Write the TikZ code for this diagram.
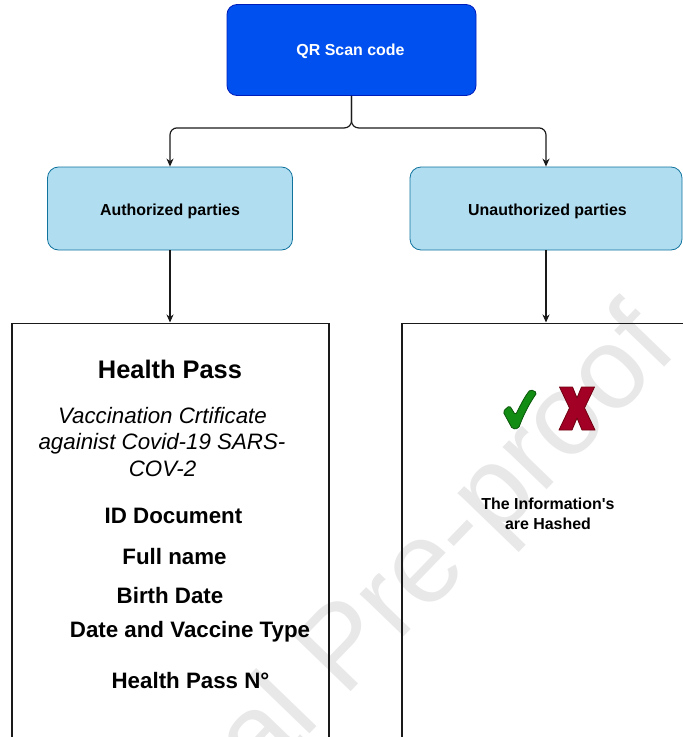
\documentclass[tikz,border=0pt]{standalone}
\usepackage{fontspec}
\setmainfont{Liberation Sans}[Ligatures=TeXOff]
\usetikzlibrary{arrows.meta}

\definecolor{qrfill}{HTML}{0050EF}
\definecolor{qrdraw}{HTML}{001DBC}
\definecolor{partyfill}{HTML}{B1DDF0}
\definecolor{partydraw}{HTML}{10739E}
\definecolor{okfill}{HTML}{128C12}
\definecolor{okdraw}{HTML}{0A560A}
\definecolor{nofill}{HTML}{A20025}
\definecolor{nodraw}{HTML}{6F0010}
\definecolor{wmark}{HTML}{E8E8E8}
\definecolor{edge}{HTML}{1A1A1A}

\begin{document}
\begin{tikzpicture}[x=1bp,y=-1bp,
  qrbox/.style={draw=qrdraw, fill=qrfill, line width=0.8bp, rounded corners=10bp,
    minimum width=249bp, minimum height=91bp, inner sep=0pt},
  partybox/.style={draw=partydraw, fill=partyfill, line width=0.8bp, rounded corners=11bp,
    minimum height=83bp, inner sep=0pt},
  cardbox/.style={draw=edge, line width=1.1bp, inner sep=0pt, anchor=north},
  lbl/.style={anchor=base, inner sep=0pt, font=\bfseries\fontsize{16}{19}\selectfont},
  title/.style={anchor=base, inner sep=0pt, font=\bfseries\fontsize{25.5}{30}\selectfont},
  field/.style={anchor=base, inner sep=0pt, font=\bfseries\fontsize{22.4}{26}\selectfont},
  cert/.style={anchor=base, inner sep=0pt, font=\itshape\fontsize{22.4}{26}\selectfont},
  watermark/.style={text=wmark, rotate=46, inner sep=0pt, font=\fontsize{116}{116}\selectfont},
  link/.style={draw=edge, line width=1.2bp, rounded corners=7bp,
    -{Stealth[length=8bp, width=7bp, inset=2.5bp]}}]
\useasboundingbox (0,0) rectangle (683,737);
\begin{scope}
\clip (0,0) rectangle (683,737);

% faint diagonal watermark behind everything
\node[watermark] (wm) at (348,652) {Journal Pre-proof};

% top level and the two audiences
\node[qrbox] (qr) at (351.5,50) {};
\node[lbl, text=white] (qrtxt) at (350.5,56) {QR Scan code};

\node[partybox, minimum width=245bp] (auth) at (170,208.5) {};
\node[lbl] (authtxt) at (170,215) {Authorized parties};

\node[partybox, minimum width=272bp] (unauth) at (546,208.5) {};
\node[lbl] (unauthtxt) at (547.5,215) {Unauthorized parties};

% the two result cards (run past the lower and right edges)
\node[cardbox, minimum width=317bp, minimum height=450bp] (pass) at (170.5,322.5) {};
\node[cardbox, minimum width=300bp, minimum height=450bp] (hashed) at (552,322.5) {};

% connectors
\draw[link] (qr.south) -- ++(0,32) -| (auth.north);
\draw[link] (qr.south) -- ++(0,32) -| (unauth.north);
\draw[link] (auth.south) -- (auth.south |- pass.north);
\draw[link] (unauth.south) -- (unauth.south |- hashed.north);

% health pass contents
\node[title] (hp) at (170,378) {Health Pass};
\node[cert] (cert1) at (162.5,423) {Vaccination Crtificate};
\node[cert] (cert2) at (162,449.5) {againist Covid-19 SARS-};
\node[cert] (cert3) at (162.5,476) {COV-2};
\node[field] (iddoc) at (173.5,523) {ID Document};
\node[field] (fname) at (174.5,564) {Full name};
\node[field] (bdate) at (170,603) {Birth Date};
\node[field] (vtype) at (190,637) {Date and Vaccine Type};
\node[field] (hpnum) at (190.5,688) {Health Pass N°};

% check mark and cross icons
\filldraw[fill=okfill, draw=okdraw, line width=0.8bp, rounded corners=1.8bp]
  (503,411.5) -- (509.5,405.5) -- (515.5,415) .. controls (521,404) and (525,396) .. (530.5,389.5)
  -- (537,392.5) .. controls (529,404) and (523,416) .. (518.5,428.5) -- (512.5,429) -- cycle;
\filldraw[fill=nofill, draw=nodraw, line width=0.8bp, line join=round]
  (559.5,387) -- (572.5,387) -- (577,398) -- (581.5,387) -- (594.5,387)
  -- (584.5,408) -- (595,430) -- (582,430) -- (577,418) -- (572,430)
  -- (559,430) -- (569.5,408) -- cycle;

\node[lbl] (hash1) at (548,509) {The Information's};
\node[lbl] (hash2) at (548,529) {are Hashed};
\end{scope}
\end{tikzpicture}
\end{document}
